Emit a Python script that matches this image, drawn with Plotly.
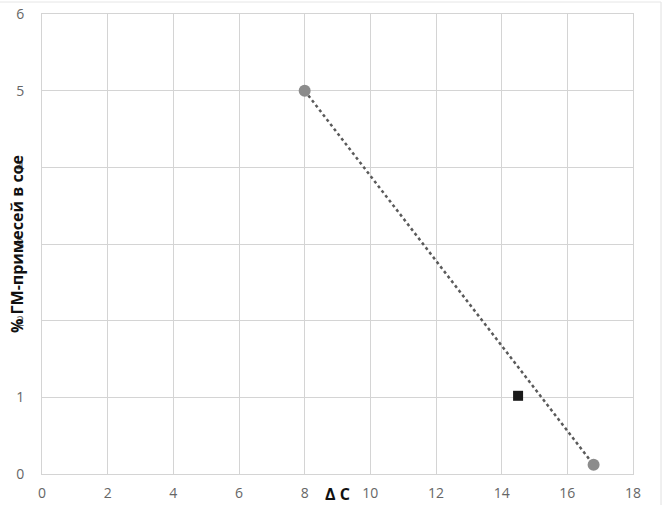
import plotly.graph_objects as go

line_x = [8, 16.8]
line_y = [5, 0.12]
square_x = [14.5]
square_y = [1.02]
x_ticks = [0, 2, 4, 6, 8, 10, 12, 14, 16, 18]
y_ticks = [0, 1, 2, 3, 4, 5, 6]

fig = go.Figure()
fig.add_trace(go.Scatter(
    x=line_x, y=line_y, mode="lines+markers",
    line=dict(color="#5a5a5a", width=2.5, dash="dot"),
    marker=dict(color="#8c8c8c", size=12, symbol="circle"),
    showlegend=False))
fig.add_trace(go.Scatter(
    x=square_x, y=square_y, mode="markers",
    marker=dict(color="#1a1a1a", size=10, symbol="square"),
    showlegend=False))

font = "'Open Sans', Lato, sans-serif"
W, H = 665, 505
L, R, T, B = 42, 32, 14, 31
PW, PH = W - L - R, H - T - B
fig.update_layout(
    width=W, height=H,
    margin=dict(l=L, r=R, t=T, b=B, autoexpand=False),
    paper_bgcolor="white", plot_bgcolor="white",
    font=dict(family=font, size=14, color="#666666"),
    xaxis=dict(range=[0, 18], tickvals=x_ticks, showgrid=True,
               gridcolor="#d4d4d4", gridwidth=1, zeroline=False,
               showline=True, linecolor="#d4d4d4", mirror=True,
               ticks="", ticklabelstandoff=6, automargin=False,
               ticklabeloverflow="allow"),
    yaxis=dict(range=[0, 6], tickvals=y_ticks, showgrid=True,
               gridcolor="#d4d4d4", gridwidth=1, zeroline=False,
               showline=True, linecolor="#d4d4d4", mirror=True,
               ticks="", ticklabelstandoff=14, automargin=False,
               ticklabeloverflow="allow"),
    annotations=[
        dict(text="<b>% ГМ-примесей в сое</b>", textangle=-90,
             x=0, xref="paper", xshift=-25, y=0.5, yref="paper",
             xanchor="center", yanchor="middle", showarrow=False,
             font=dict(family=font, size=16, color="#111111")),
        dict(text="<b>Δ C</b>", x=9.0, xref="x", y=0, yref="paper",
             yshift=-20, xanchor="center", yanchor="middle", showarrow=False,
             font=dict(family=font, size=16, color="#111111")),
    ],
    shapes=[
        dict(type="line", xref="paper", yref="paper",
             x0=(661 - L) / PW, x1=(661 - L) / PW,
             y0=-B / PH, y1=1 + (T - 2) / PH,
             line=dict(color="#e0e0e0", width=1)),
        dict(type="line", xref="paper", yref="paper",
             x0=-L / PW, x1=(661 - L) / PW,
             y0=1 + (T - 2) / PH, y1=1 + (T - 2) / PH,
             line=dict(color="#e6e6e6", width=1)),
    ],
)
fig.write_html(
    "out.html",
    config={"displayModeBar": False},
    post_script="document.body.style.margin='0';document.body.style.overflow='hidden';",
)
